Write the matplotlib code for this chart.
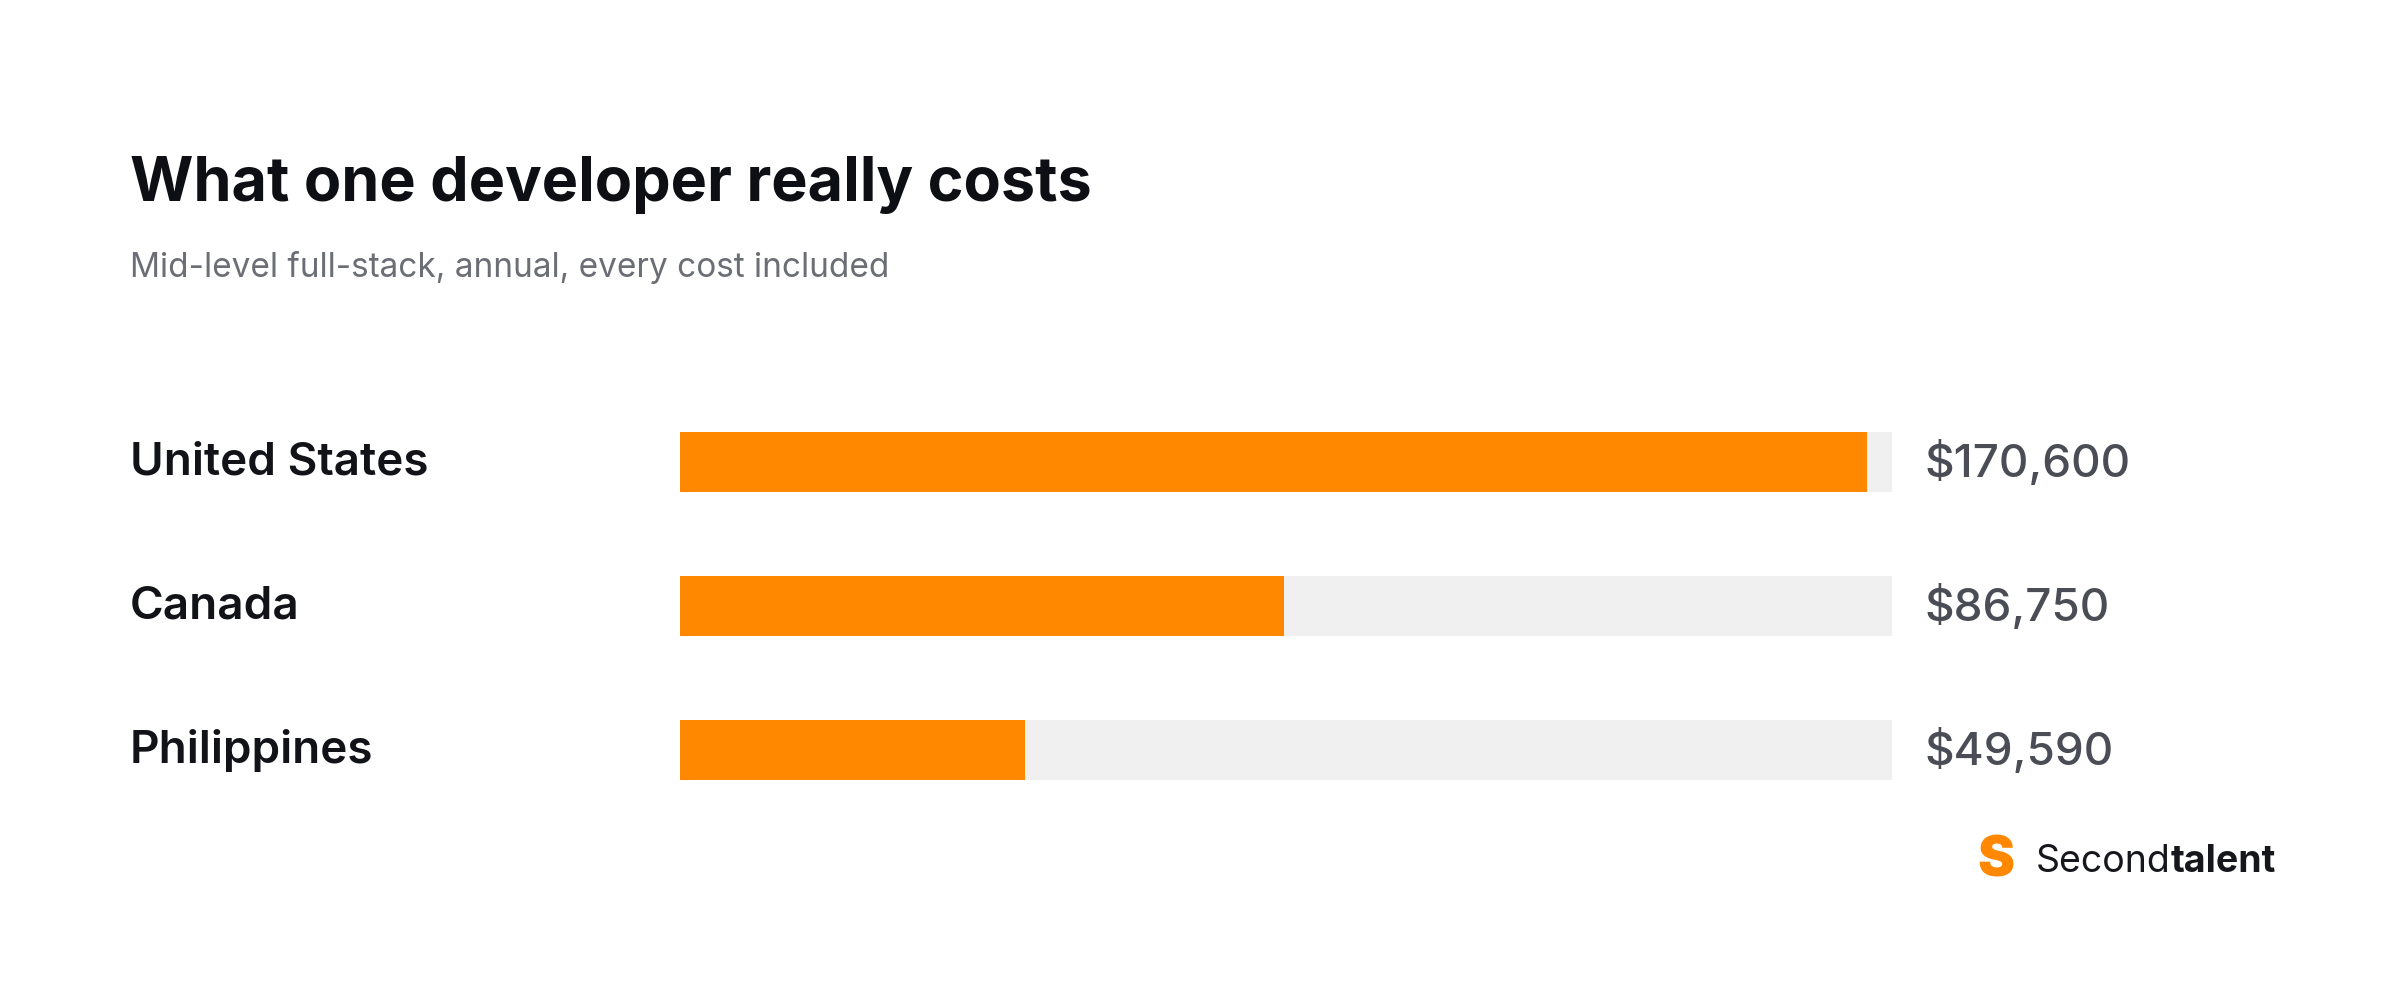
import matplotlib.pyplot as plt
import matplotlib.transforms as mtransforms

countries = ['United States', 'Canada', 'Philippines']
costs = [170600, 86750, 49590]
cost_labels = ['$170,600', '$86,750', '$49,590']
track_max = 174100

plt.rcParams['font.family'] = ['Inter', 'DejaVu Sans']

fig = plt.figure(figsize=(24, 10.04), dpi=100)
fig.patch.set_facecolor('white')

W, H = 1568, 656  # reference layout units
def fx(x): return x / W
def fy(y): return 1 - y / H

ax = fig.add_axes([fx(444), fy(510), fx(1236) - fx(444), (510 - 283) / H])
bar_h = 39 / 94
half = bar_h / 2
ypos = list(range(len(countries)))
ax.barh(ypos, [track_max] * len(countries), height=bar_h, color='#eff0ef', linewidth=0)
ax.barh(ypos, costs, height=bar_h, color='#ff8800', linewidth=0)
ax.set_xlim(0, track_max)
ax.set_ylim(len(countries) - 1 + half, -half)
ax.axis('off')

trans = mtransforms.blended_transform_factory(fig.transFigure, ax.transData)
for y, name, lab in zip(ypos, countries, cost_labels):
    fig.text(fx(85), y, name, transform=trans, fontsize=33, fontweight='semibold',
             color='#111318', va='center', ha='left')
    fig.text(fx(1257), y, lab, transform=trans, fontsize=33, fontweight='medium',
             color='#4a4d55', va='center', ha='left')

fig.text(fx(85), fy(121), 'What one developer really costs', fontsize=44,
         fontweight='bold', color='#0d0f14', va='center', ha='left')
fig.text(fx(85), fy(175), 'Mid-level full-stack, annual, every cost included', fontsize=24,
         color='#6b6e74', va='center', ha='left')

# logo
fig.text(fx(1304), fy(563), 'S', fontsize=40, fontweight='black', color='#ff8800',
         va='center', ha='center')
t1 = fig.text(fx(1330), fy(563), 'Second', fontsize=27, color='#15171c', va='center', ha='left')
fig.canvas.draw()
bb = t1.get_window_extent().transformed(fig.transFigure.inverted())
fig.text(bb.x1, fy(563), 'talent', fontsize=27, fontweight='bold', color='#15171c',
         va='center', ha='left')

fig.savefig('out.png', dpi=100, facecolor='white')
